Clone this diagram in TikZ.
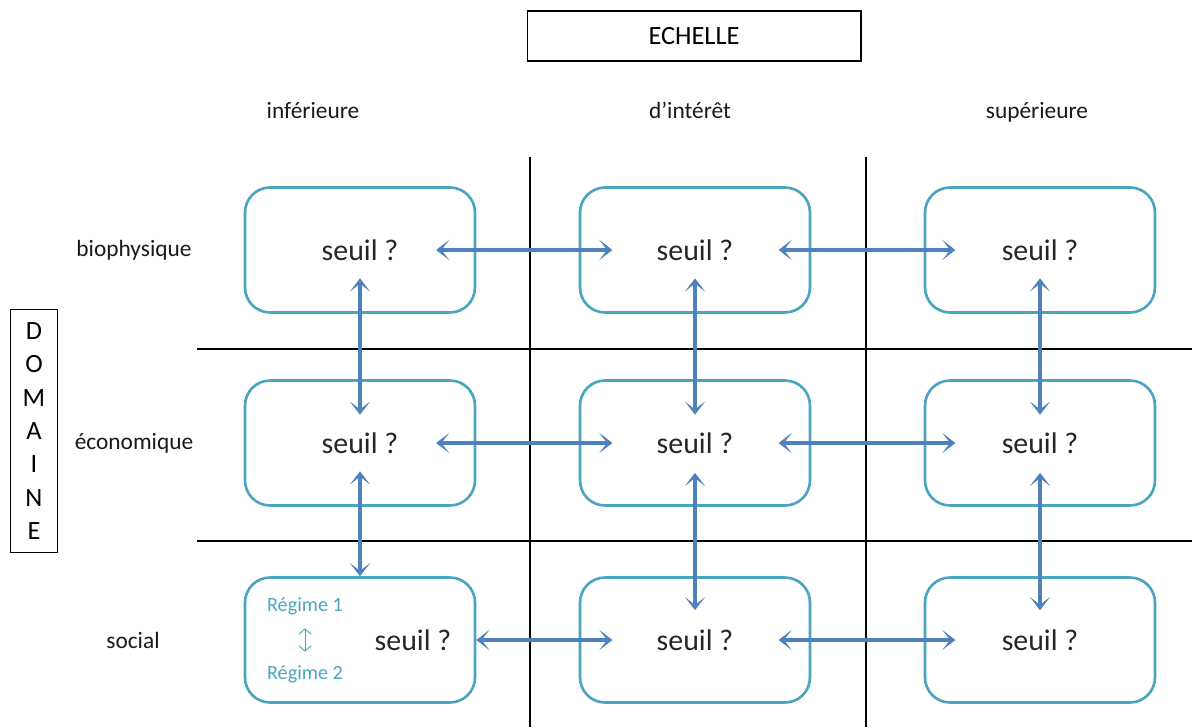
\documentclass[tikz,border=0pt]{standalone}
\usepackage{fontspec}
\setmainfont{Carlito}
\usepackage{tikz}
\usetikzlibrary{arrows.meta}

\definecolor{boxteal}{RGB}{75,165,192}
\definecolor{linkblue}{RGB}{79,129,189}

\begin{document}
\begin{tikzpicture}[x=0.02cm,y=-0.02cm,
  seuilbox/.style={draw=boxteal,line width=1.5pt,rounded corners=0.5cm,minimum width=4.6cm,minimum height=2.5cm},
  seuiltext/.style={text=black!85,font=\fontsize{17}{20}\selectfont,inner sep=0pt},
  headtext/.style={text=black!90,font=\fontsize{13.3}{16}\selectfont},
  regime/.style={text=boxteal,font=\fontsize{11.5}{14}\selectfont},
  link/.style={linkblue,line width=2pt,{Stealth[length=7.5pt,width=11.5pt,inset=4.5pt]}-{Stealth[length=7.5pt,width=11.5pt,inset=4.5pt]}},
  gridline/.style={line width=1pt}]
\useasboundingbox (0,0) rectangle (1192,727);
% titles
\node[draw,line width=0.6pt,minimum width=6.68cm,minimum height=1cm,font=\fontsize{15}{18}\selectfont] (echelle) at (694,36) {ECHELLE};
\node[draw,line width=0.6pt,minimum width=0.94cm,minimum height=4.86cm,align=center,font=\fontsize{15}{19}\selectfont] (domaine) at (34,431) {D\\O\\M\\A\\I\\N\\E};
\node[headtext,anchor=base] (inf) at (313,118) {inférieure};
\node[headtext,anchor=base] (int) at (690,118) {d’intérêt};
\node[headtext,anchor=base] (sup) at (1037,118) {supérieure};
\node[headtext] (bio) at (134,250) {biophysique};
\node[headtext] (eco) at (134,443) {économique};
\node[headtext] (soc) at (133,640) {social};
% grid
\draw[gridline] (530,157) -- (530,727);
\draw[gridline] (866,157) -- (866,727);
\draw[gridline] (197,349) -- (1192,349);
\draw[gridline] (197,541) -- (1192,541);
% boxes
\node[seuilbox] (b11) at (360,250) {};
\node[seuilbox] (b12) at (695,250) {};
\node[seuilbox] (b13) at (1040,250) {};
\node[seuilbox] (b21) at (360,443) {};
\node[seuilbox] (b22) at (695,443) {};
\node[seuilbox] (b23) at (1040,443) {};
\node[seuilbox] (b31) at (360,640) {};
\node[seuilbox] (b32) at (695,640) {};
\node[seuilbox] (b33) at (1040,640) {};
\node[seuiltext] (s11) at (b11) {seuil ?};
\node[seuiltext] (s12) at (b12) {seuil ?};
\node[seuiltext] (s13) at (b13) {seuil ?};
\node[seuiltext] (s21) at (b21) {seuil ?};
\node[seuiltext] (s22) at (b22) {seuil ?};
\node[seuiltext] (s23) at (b23) {seuil ?};
\node[seuiltext] (s31) at (413,640) {seuil ?};
\node[seuiltext] (s32) at (b32) {seuil ?};
\node[seuiltext] (s33) at (b33) {seuil ?};
\node[regime] (reg1) at (305,606) {Régime 1};
\node[regime] (reg2) at (305,674) {Régime 2};
\draw[boxteal,line width=0.5pt,{Straight Barb[length=3pt,width=7pt]}-{Straight Barb[length=3pt,width=7pt]},shorten <=0.15cm,shorten >=0.15cm] (reg1) -- (reg2);
% links
\draw[link,shorten <=0.75cm,shorten >=0.88cm] (s11) -- (s12);
\draw[link,shorten <=0.9cm,shorten >=0.92cm] (s12) -- (s13);
\draw[link,shorten <=0.75cm,shorten >=0.88cm] (s21) -- (s22);
\draw[link,shorten <=0.9cm,shorten >=0.92cm] (s22) -- (s23);
\draw[link,shorten >=0.88cm] (b31) -- (s32);
\draw[link,shorten <=0.9cm,shorten >=0.92cm] (s32) -- (s33);
\draw[link,shorten <=0.35cm,shorten >=0.35cm] (s11) -- (s21);
\draw[link,shorten <=0.35cm,shorten >=0.35cm] (s12) -- (s22);
\draw[link,shorten <=0.35cm,shorten >=0.35cm] (s13) -- (s23);
\draw[link,shorten <=0.35cm] (s21) -- (b31);
\draw[link,shorten <=0.38cm,shorten >=0.38cm] (s22) -- (s32);
\draw[link,shorten <=0.38cm,shorten >=0.38cm] (s23) -- (s33);
\end{tikzpicture}
\end{document}
